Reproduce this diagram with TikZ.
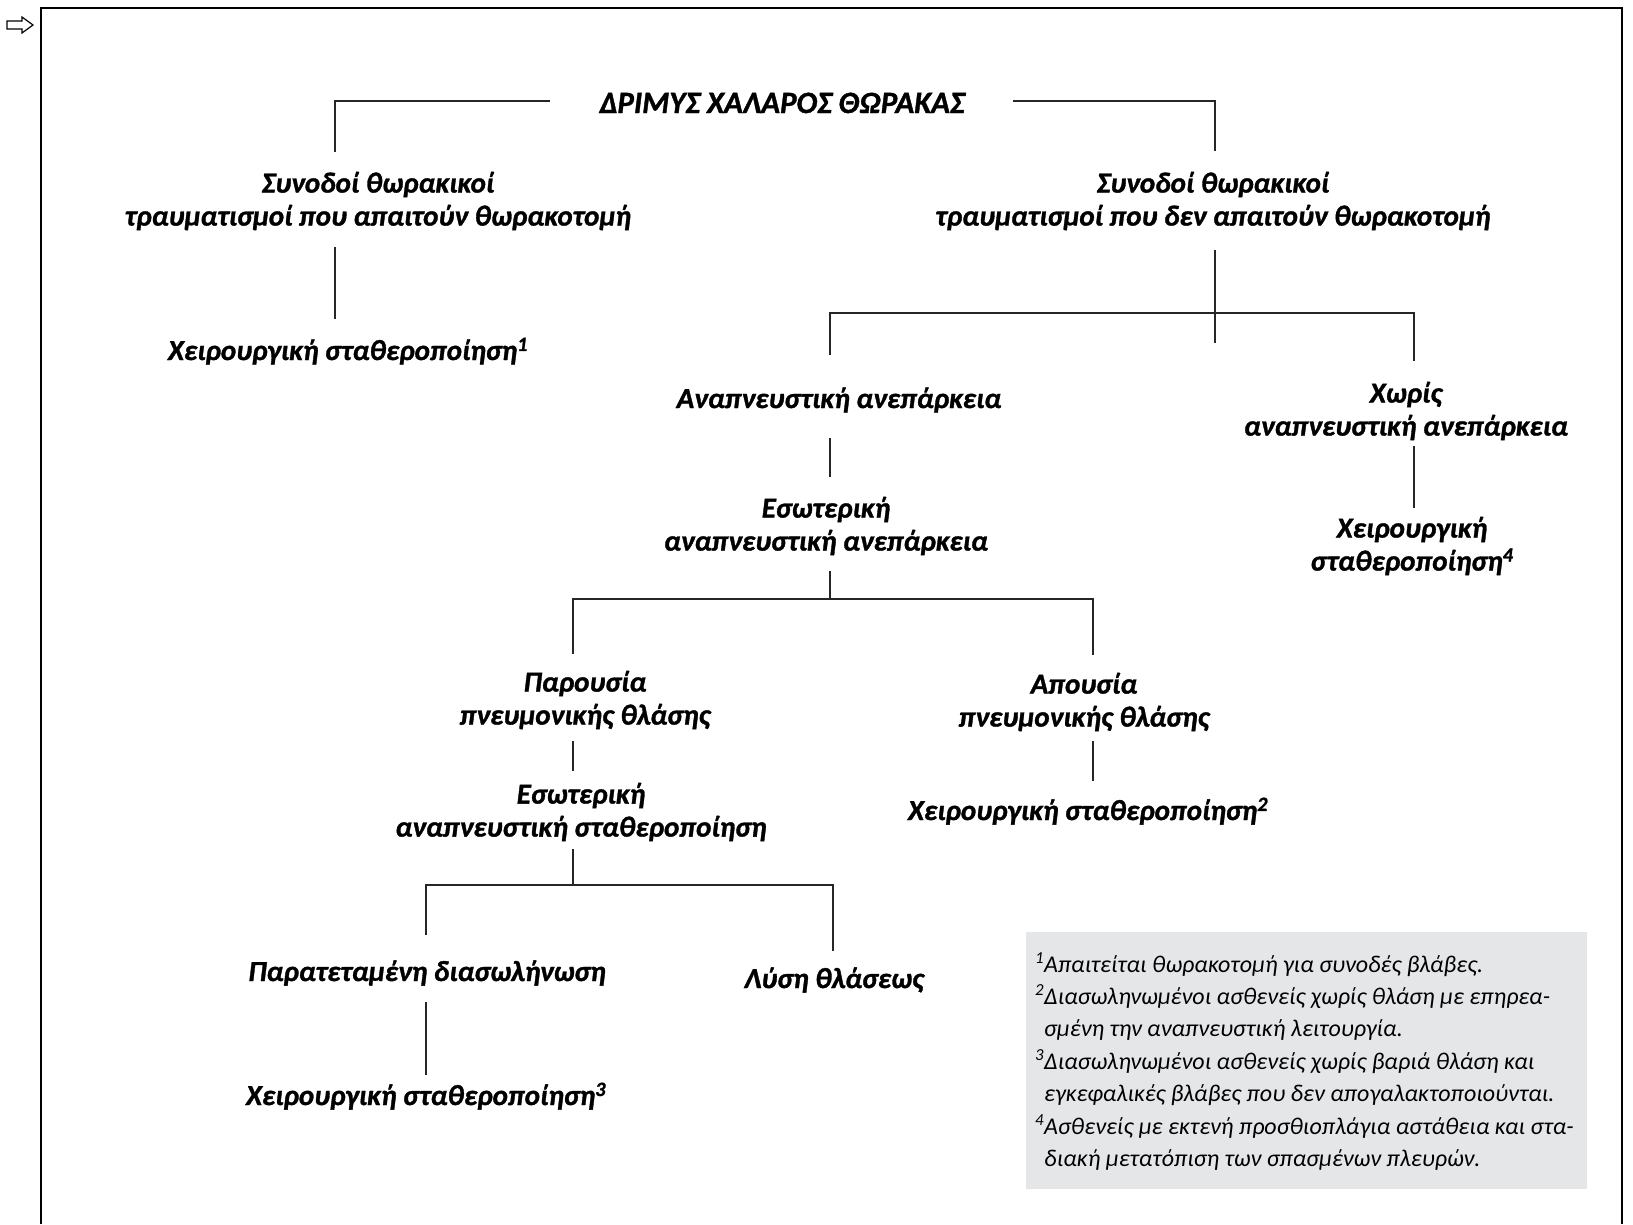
\documentclass[tikz,border=0pt]{standalone}
\usepackage{fontspec}
\setmainfont{Carlito}[BoldItalicFeatures={FakeBold=1.2}]
\definecolor{notegray}{RGB}{229,230,231}
\begin{document}
\begin{tikzpicture}[x=1pt,y=-1pt,
  lbl/.style={font=\fontsize{29}{33}\selectfont\bfseries\itshape, inner sep=0pt, align=center},
  titlelbl/.style={font=\fontsize{31}{33}\selectfont\bfseries\itshape, inner sep=0pt},
  conn/.style={line width=1.3pt, draw=black!85},
  notetxt/.style={font=\fontsize{24}{32.4}\selectfont\itshape, inner sep=0pt, align=left},
  frameline/.style={line width=1.5pt}]
\useasboundingbox (0,0) rectangle (1633,1224);
% arrow icon and frame
\draw[line width=1.2pt, line join=miter] (7,21) -- (22,21) -- (22,17) -- (33,25) -- (22,33) -- (22,29) -- (7,29) -- cycle;
\draw[frameline] (41,1224) -- (41,8) -- (1622,8) -- (1622,1224);
% note box
\fill[notegray] (1026,932) rectangle (1587,1189);
% nodes
\node[titlelbl, anchor=base] (title) at (782,113) {ΔΡΙΜΥΣ ΧΑΛΑΡΟΣ ΘΩΡΑΚΑΣ};
\node[lbl] (L1) at (378,201) {Συνοδοί θωρακικοί\\τραυματισμοί που απαιτούν θωρακοτομή};
\node[lbl, anchor=base] (Lsurg) at (348,360) {Χειρουργική σταθεροποίηση\textsuperscript{1}};
\node[lbl] (R1) at (1213,201) {Συνοδοί θωρακικοί\\τραυματισμοί που δεν απαιτούν θωρακοτομή};
\node[lbl, anchor=base] (resp) at (839,408) {Αναπνευστική ανεπάρκεια};
\node[lbl] (noresp) at (1406,411) {Χωρίς\\αναπνευστική ανεπάρκεια};
\node[lbl] (inner) at (826,526) {Εσωτερική\\αναπνευστική ανεπάρκεια};
\node[lbl] (Rsurg) at (1412,546) {Χειρουργική\\σταθεροποίηση\textsuperscript{4}};
\node[lbl] (pres) at (585,700) {Παρουσία\\πνευμονικής θλάσης};
\node[lbl] (abs) at (1084,702) {Απουσία\\πνευμονικής θλάσης};
\node[lbl] (stab) at (581,812) {Εσωτερική\\αναπνευστική σταθεροποίηση};
\node[lbl, anchor=base] (abssurg) at (1088,820) {Χειρουργική σταθεροποίηση\textsuperscript{2}};
\node[lbl, anchor=base] (prol) at (427,981) {Παρατεταμένη διασωλήνωση};
\node[lbl, anchor=base] (lysis) at (834,988) {Λύση θλάσεως};
\node[lbl, anchor=base] (prolsurg) at (426,1105) {Χειρουργική σταθεροποίηση\textsuperscript{3}};
\node[notetxt, anchor=north west] (notes) at (1035,952) {\textsuperscript{1}Απαιτείται θωρακοτομή για συνοδές βλάβες.\\
\textsuperscript{2}Διασωληνωμένοι ασθενείς χωρίς θλάση με επηρεα-\\
\phantom{\textsuperscript{2}}σμένη την αναπνευστική λειτουργία.\\
\textsuperscript{3}Διασωληνωμένοι ασθενείς χωρίς βαριά θλάση και\\
\phantom{\textsuperscript{3}}εγκεφαλικές βλάβες που δεν απογαλακτοποιούνται.\\
\textsuperscript{4}Ασθενείς με εκτενή προσθιοπλάγια αστάθεια και στα-\\
\phantom{\textsuperscript{4}}διακή μετατόπιση των σπασμένων πλευρών.};
% connector coordinates
\coordinate (tL) at (550,101); \coordinate (tLc) at (335,101); \coordinate (L1top) at (335,152);
\coordinate (tR) at (1013,101); \coordinate (tRc) at (1215,101); \coordinate (R1top) at (1215,151);
\coordinate (L1bot) at (335,247); \coordinate (Lsurgtop) at (335,319);
\coordinate (R1bot) at (1215,250); \coordinate (R1j) at (1215,343);
\coordinate (respj) at (830,313); \coordinate (resptop) at (830,355);
\coordinate (norespj) at (1414,313); \coordinate (noresptop) at (1414,361);
\coordinate (norespbot) at (1414,446); \coordinate (Rsurgtop) at (1414,508);
\coordinate (respbot) at (830,438); \coordinate (innertop) at (830,477);
\coordinate (innerbot) at (830,571); \coordinate (innerj) at (830,599);
\coordinate (presj) at (573,599); \coordinate (prestop) at (573,654);
\coordinate (absj) at (1093,599); \coordinate (abstop) at (1093,655);
\coordinate (presbot) at (573,741); \coordinate (stabtop) at (573,771);
\coordinate (absbot) at (1093,741); \coordinate (abssurgtop) at (1093,781);
\coordinate (stabbot) at (573,849); \coordinate (stabj) at (573,885);
\coordinate (prolj) at (426,885); \coordinate (proltop) at (426,935);
\coordinate (lysisj) at (833,885); \coordinate (lysistop) at (833,951);
\coordinate (prolbot) at (426,1002); \coordinate (prolsurgtop) at (426,1075);
% connectors
\draw[conn] (tL) -- (tLc) -- (L1top);
\draw[conn] (tR) -- (tRc) -- (R1top);
\draw[conn] (L1bot) -- (Lsurgtop);
\draw[conn] (R1bot) -- (R1j);
\draw[conn] (resptop) -- (respj) -- (norespj) -- (noresptop);
\draw[conn] (norespbot) -- (Rsurgtop);
\draw[conn] (respbot) -- (innertop);
\draw[conn] (innerbot) -- (innerj);
\draw[conn] (prestop) -- (presj) -- (absj) -- (abstop);
\draw[conn] (presbot) -- (stabtop);
\draw[conn] (absbot) -- (abssurgtop);
\draw[conn] (stabbot) -- (stabj);
\draw[conn] (proltop) -- (prolj) -- (lysisj) -- (lysistop);
\draw[conn] (prolbot) -- (prolsurgtop);
\end{tikzpicture}
\end{document}
